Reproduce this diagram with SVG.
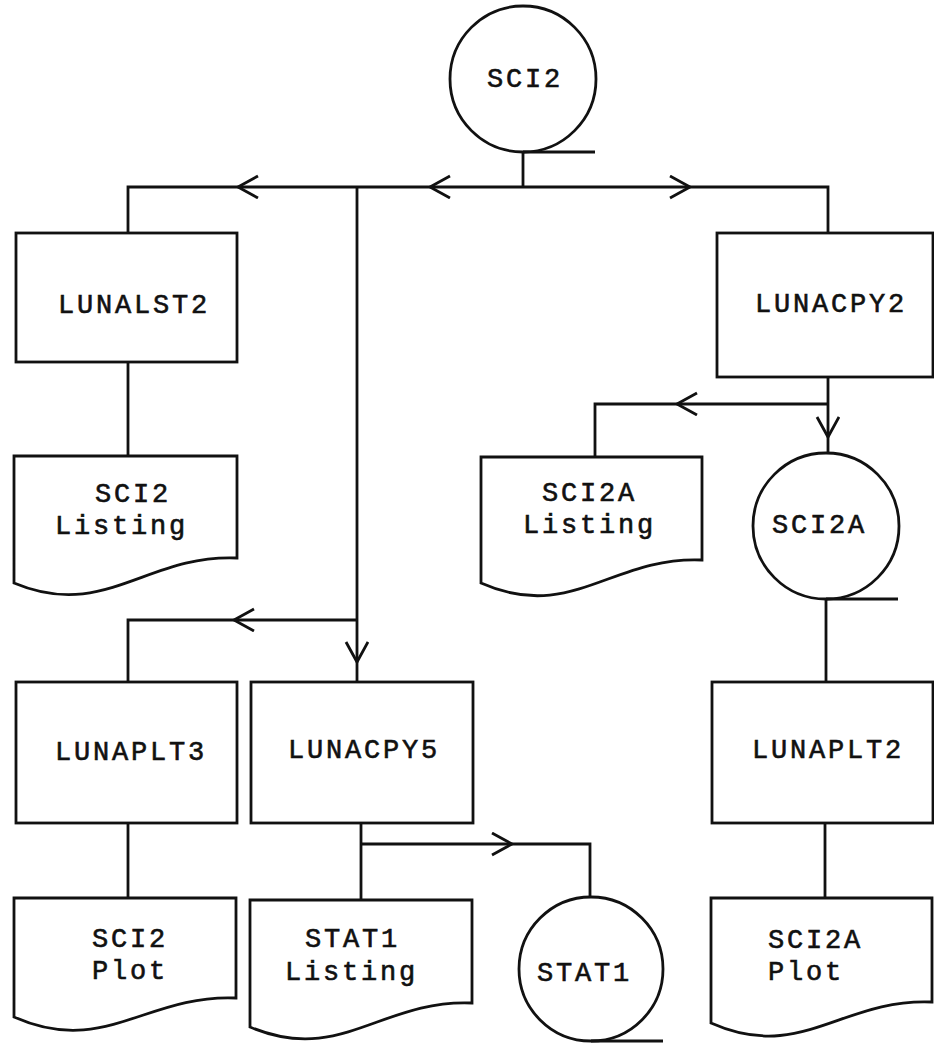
<svg xmlns="http://www.w3.org/2000/svg" width="934" height="1043" viewBox="0 0 934 1043">
  <style>
    .shape { fill: #fff; stroke: #111; stroke-width: 2.8; stroke-linejoin: miter; }
    .wire { fill: none; stroke: #111; stroke-width: 2.8; }
    .label { font-family: "Liberation Mono", "DejaVu Sans Mono", monospace; font-size: 27px; letter-spacing: 2.8px; fill: #111; stroke: #111; stroke-width: 0.6px; }
  </style>
  <defs>
    <!-- open chevron arrowhead, tip at the path end -->
    <marker id="chev" viewBox="0 0 24 26" refX="21" refY="12" markerWidth="24" markerHeight="26" markerUnits="userSpaceOnUse" orient="auto">
      <path d="M 1 1 L 21 12 L 1 23" fill="none" stroke="#111" stroke-width="2.8"/>
    </marker>
  </defs>
  <rect width="934" height="1043" fill="#fff"/>

  <!-- connectors -->
  <g id="connectors">
    <path class="wire" d="M 523 152 V 187"/>
    <path class="wire" d="M 523 187 H 430" marker-end="url(#chev)"/>
    <path class="wire" d="M 430 187 H 238" marker-end="url(#chev)"/>
    <path class="wire" d="M 238 187 H 128 V 233"/>
    <path class="wire" d="M 523 187 H 690" marker-end="url(#chev)"/>
    <path class="wire" d="M 690 187 H 828 V 233"/>
    <path class="wire" d="M 357 187 V 662" marker-end="url(#chev)"/>
    <path class="wire" d="M 357 662 V 682"/>
    <path class="wire" d="M 128 362 V 456"/>
    <path class="wire" d="M 357 620 H 234" marker-end="url(#chev)"/>
    <path class="wire" d="M 234 620 H 128 V 682"/>
    <path class="wire" d="M 128 823 V 898"/>
    <path class="wire" d="M 361 823 V 900"/>
    <path class="wire" d="M 361 844 H 512" marker-end="url(#chev)"/>
    <path class="wire" d="M 512 844 H 590 V 897"/>
    <path class="wire" d="M 828 377 V 437" marker-end="url(#chev)"/>
    <path class="wire" d="M 828 437 V 453"/>
    <path class="wire" d="M 828 404 H 677" marker-end="url(#chev)"/>
    <path class="wire" d="M 677 404 H 595 V 457"/>
    <path class="wire" d="M 826 599 V 682"/>
    <path class="wire" d="M 825 823 V 898"/>
  </g>

  <!-- SCI2 data set -->
  <g id="sci2">
    <circle class="shape" cx="523" cy="79" r="73"/>
    <path class="wire" d="M 523 152 H 595"/>
    <text class="label" x="487" y="87">SCI2</text>
  </g>

  <g id="lunalst2">
    <rect class="shape" x="16" y="233" width="221" height="129"/>
    <text class="label" x="58" y="313">LUNALST2</text>
  </g>

  <g id="lunacpy2">
    <rect class="shape" x="717" y="233" width="216" height="144"/>
    <text class="label" x="755" y="312">LUNACPY2</text>
  </g>

  <g id="sci2-listing">
    <path class="shape" d="M 14 456 H 237 V 558 C 147 554 104 621 14 583 Z"/>
    <text class="label" x="95" y="502">SCI2</text>
    <text class="label" x="55" y="534">Listing</text>
  </g>

  <g id="sci2a-listing">
    <path class="shape" d="M 481 457 H 702 V 560 C 612 556 571 623 481 583 Z"/>
    <text class="label" x="542" y="501">SCI2A</text>
    <text class="label" x="523" y="533">Listing</text>
  </g>

  <g id="sci2a">
    <circle class="shape" cx="826" cy="526" r="73"/>
    <path class="wire" d="M 826 599 H 898"/>
    <text class="label" x="772" y="533">SCI2A</text>
  </g>

  <g id="lunaplt3">
    <rect class="shape" x="16" y="682" width="221" height="141"/>
    <text class="label" x="55" y="760">LUNAPLT3</text>
  </g>

  <g id="lunacpy5">
    <rect class="shape" x="251" y="682" width="222" height="141"/>
    <text class="label" x="288" y="758">LUNACPY5</text>
  </g>

  <g id="lunaplt2">
    <rect class="shape" x="712" y="682" width="221" height="141"/>
    <text class="label" x="752" y="758">LUNAPLT2</text>
  </g>

  <g id="sci2-plot">
    <path class="shape" d="M 14 898 H 236 V 998 C 146 994 104 1057 14 1017 Z"/>
    <text class="label" x="92" y="947">SCI2</text>
    <text class="label" x="92" y="979">Plot</text>
  </g>

  <g id="stat1-listing">
    <path class="shape" d="M 250 900 H 472 V 1003 C 382 999 340 1065 250 1027 Z"/>
    <text class="label" x="305" y="947">STAT1</text>
    <text class="label" x="285" y="980">Listing</text>
  </g>

  <g id="stat1">
    <circle class="shape" cx="591" cy="969" r="72"/>
    <path class="wire" d="M 591 1041 H 663"/>
    <text class="label" x="537" y="981">STAT1</text>
  </g>

  <g id="sci2a-plot">
    <path class="shape" d="M 711 898 H 932 V 1002 C 842 998 801 1063 711 1023 Z"/>
    <text class="label" x="768" y="948">SCI2A</text>
    <text class="label" x="768" y="980">Plot</text>
  </g>
</svg>
